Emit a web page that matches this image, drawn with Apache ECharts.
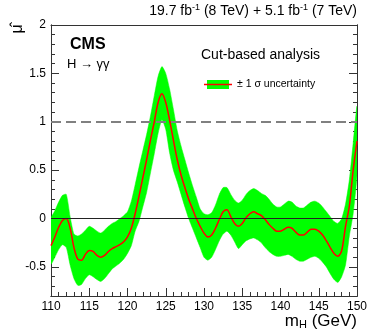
<!DOCTYPE html>
<html>
    <head>
        <meta charset="utf-8" />
        <script src="https://cdn.jsdelivr.net/npm/echarts@6/dist/echarts.min.js"></script>
    </head>
    <body style="margin: 0">
        <style>
            html,
            body,
            #main {
                width: 374px;
                height: 334px;
                background: #fff;
            }
        </style>
        <div id="main"></div>
        <script>
            // m_H scan points (GeV) and the best fit signal strength with its +/- 1 sigma band
            var massGeV = [
                110, 110.5, 111, 111.5, 112, 112.5, 113, 113.5, 114, 114.5,
                115, 115.5, 116, 116.5, 117, 117.5, 118, 118.5, 119, 119.5,
                120, 120.5, 121, 121.5, 122, 122.5, 123, 123.5, 124, 124.5,
                125, 125.5, 126, 126.5, 127, 127.5, 128, 128.5, 129, 129.5,
                130, 130.5, 131, 131.5, 132, 132.5, 133, 133.5, 134, 134.5,
                135, 135.5, 136, 136.5, 137, 137.5, 138, 138.5, 139, 139.5,
                140, 140.5, 141, 141.5, 142, 142.5, 143, 143.5, 144, 144.5,
                145, 145.5, 146, 146.5, 147, 147.5, 148, 148.5, 149, 149.5,
                150
            ];
            var muBest = [
                -0.28, -0.19, -0.09, -0.02, 0.0, -0.1, -0.3, -0.42, -0.43, -0.37,
                -0.33, -0.34, -0.38, -0.4, -0.38, -0.34, -0.31, -0.29, -0.27, -0.24,
                -0.19, -0.1, 0.05, 0.23, 0.42, 0.61, 0.81, 1.0, 1.2, 1.29,
                1.2, 1.02, 0.81, 0.61, 0.45, 0.32, 0.2, 0.1, 0.0, -0.08,
                -0.15, -0.19, -0.17, -0.1, -0.01, 0.07, 0.09, 0.02, -0.05, -0.08,
                -0.05, 0.01, 0.05, 0.07, 0.05, 0.03, -0.01, -0.06, -0.1, -0.13,
                -0.13, -0.11, -0.09, -0.1, -0.14, -0.17, -0.17, -0.14, -0.11, -0.11,
                -0.13, -0.17, -0.23, -0.3, -0.36, -0.39, -0.33, -0.08, 0.13, 0.5,
                0.8
            ];
            var muUp = [
                0.0, 0.08, 0.17, 0.24, 0.25, 0.02, -0.16, -0.18, -0.16, -0.12,
                -0.08, -0.1, -0.13, -0.15, -0.12, -0.08, -0.05, -0.03, 0.0, 0.03,
                0.07, 0.18, 0.35, 0.53, 0.7, 0.87, 1.06, 1.27, 1.47, 1.57,
                1.5, 1.34, 1.13, 0.91, 0.75, 0.61, 0.47, 0.34, 0.22, 0.1,
                0.05, 0.04, 0.06, 0.14, 0.25, 0.32, 0.32, 0.25, 0.19, 0.16,
                0.19, 0.25, 0.29, 0.31, 0.29, 0.26, 0.24, 0.2, 0.15, 0.12,
                0.12, 0.15, 0.18, 0.17, 0.13, 0.11, 0.11, 0.14, 0.17, 0.18,
                0.16, 0.12, 0.07, 0.02, -0.03, -0.05, 0.0, 0.15, 0.4, 0.78,
                1.16
            ];
            var muDown = [
                -0.47, -0.4, -0.32, -0.27, -0.3, -0.48, -0.62, -0.69, -0.68, -0.62,
                -0.58, -0.6, -0.63, -0.65, -0.62, -0.57, -0.52, -0.49, -0.46, -0.42,
                -0.36, -0.28, -0.13, -0.03, 0.12, 0.27, 0.47, 0.67, 0.88, 1.02,
                0.92, 0.68, 0.5, 0.38, 0.25, 0.12, 0.0, -0.1, -0.2, -0.3,
                -0.4, -0.43, -0.4, -0.32, -0.23, -0.16, -0.13, -0.17, -0.24, -0.31,
                -0.27, -0.23, -0.21, -0.2, -0.22, -0.25, -0.3, -0.34, -0.37, -0.39,
                -0.39, -0.38, -0.37, -0.39, -0.42, -0.44, -0.44, -0.42, -0.4, -0.39,
                -0.41, -0.45, -0.5, -0.57, -0.63, -0.66, -0.6, -0.48, -0.18, 0.05,
                0.45
            ];
            var xTickLabels = [110, 115, 120, 125, 130, 135, 140, 145, 150];
            var yTickLabels = [-0.5, 0, 0.5, 1, 1.5, 2];

            var font = "Liberation Sans";
            var chart = echarts.init(document.getElementById("main"), null, {
                renderer: "canvas",
            });

            function pairs(ys) {
                var out = [];
                for (var i = 0; i < massGeV.length; i++) {
                    out.push([massGeV[i], ys[i]]);
                }
                return out;
            }

            // whole band as one polygon: upper edge left to right, lower edge back
            function renderBand(params, api) {
                if (params.dataIndex !== 0) return;
                var upper = [];
                var lower = [];
                for (var i = 0; i < massGeV.length; i++) {
                    upper.push(api.coord([massGeV[i], muUp[i]]));
                    lower.push(api.coord([massGeV[i], muDown[i]]));
                }
                return {
                    type: "group",
                    children: [
                        {
                            type: "polygon",
                            shape: { points: upper.concat(lower.reverse()), smooth: 0.2 },
                            style: { fill: "#00ff00", stroke: "#00ff00", lineWidth: 0.5 },
                        },
                    ],
                };
            }

            var frame = { onZero: false, lineStyle: { color: "#333", width: 1 } };
            var noLabel = { show: false };

            chart.setOption({
                animation: false,
                grid: { left: 51, right: 17, top: 25, bottom: 38 },
                xAxis: [
                    {
                        type: "value", min: 110, max: 150, interval: 1, position: "bottom",
                        axisLine: frame,
                        axisTick: { inside: true, length: 4, lineStyle: { color: "#333" } },
                        axisLabel: noLabel, splitLine: { show: false },
                    },
                    {
                        type: "value", min: 110, max: 150, position: "bottom",
                        axisLine: frame,
                        axisTick: {
                            inside: true, length: 8, customValues: xTickLabels,
                            lineStyle: { color: "#333" },
                        },
                        axisLabel: {
                            customValues: xTickLabels, margin: 5,
                            color: "#000", fontSize: 12, fontFamily: font,
                        },
                        splitLine: { show: false },
                    },
                    {
                        type: "value", min: 110, max: 150, position: "top",
                        axisLine: frame, axisTick: { show: false },
                        axisLabel: noLabel, splitLine: { show: false },
                    },
                ],
                yAxis: [
                    {
                        type: "value", min: -0.8, max: 2, interval: 0.1, position: "left",
                        axisLine: frame,
                        axisTick: { inside: true, length: 4, lineStyle: { color: "#333" } },
                        axisLabel: noLabel, splitLine: { show: false },
                    },
                    {
                        type: "value", min: -0.8, max: 2, position: "left",
                        axisLine: frame,
                        axisTick: {
                            inside: true, length: 8, customValues: yTickLabels,
                            lineStyle: { color: "#333" },
                        },
                        axisLabel: {
                            customValues: yTickLabels, margin: 5,
                            color: "#000", fontSize: 12, fontFamily: font,
                        },
                        splitLine: { show: false },
                    },
                    {
                        type: "value", min: -0.8, max: 2, interval: 0.1, position: "right",
                        axisLine: frame,
                        axisTick: { inside: true, length: 4, lineStyle: { color: "#333" } },
                        axisLabel: noLabel, splitLine: { show: false },
                    },
                    {
                        type: "value", min: -0.8, max: 2, position: "right",
                        axisLine: frame,
                        axisTick: {
                            inside: true, length: 8, customValues: yTickLabels,
                            lineStyle: { color: "#333" },
                        },
                        axisLabel: noLabel, splitLine: { show: false },
                    },
                ],
                series: [
                    {
                        // carries the mu = 0 reference line, under the band
                        name: "zero",
                        type: "line",
                        z: 1,
                        data: pairs(muBest),
                        symbol: "none",
                        lineStyle: { opacity: 0 },
                        markLine: {
                            silent: true, symbol: "none", label: { show: false },
                            lineStyle: { color: "#222", width: 1, type: "solid" },
                            data: [{ yAxis: 0 }],
                        },
                    },
                    {
                        name: "± 1 σ uncertainty",
                        type: "custom",
                        z: 2,
                        clip: true,
                        renderItem: renderBand,
                        data: pairs(muUp),
                    },
                    {
                        name: "best fit",
                        type: "line",
                        z: 3,
                        data: pairs(muBest),
                        symbol: "none",
                        smooth: 0.3,
                        lineStyle: { color: "#ff0000", width: 1.5 },
                        markLine: {
                            silent: true, symbol: "none", label: { show: false },
                            lineStyle: { color: "#808080", width: 2, type: [10, 5] },
                            data: [{ yAxis: 1 }],
                        },
                    },
                ],
                graphic: [
                    {
                        type: "text", right: 17, top: 3,
                        style: {
                            text: "19.7 fb{sup|-1} (8 TeV) + 5.1 fb{sup|-1} (7 TeV)",
                            font: "14px " + font, fill: "#000",
                            rich: { sup: { fontSize: 9, fontFamily: font, padding: [0, 0, 7, 0] } },
                        },
                    },
                    {
                        type: "group", x: 18, y: 29, rotation: Math.PI / 2,
                        children: [
                            {
                                type: "text", x: 0, y: 0,
                                style: {
                                    text: "μ̂", font: "16px " + font, fill: "#000",
                                    align: "center", verticalAlign: "middle",
                                },
                            },
                        ],
                    },
                    {
                        type: "text", left: 70, top: 37,
                        style: { text: "CMS", font: "bold 16px " + font, fill: "#000" },
                    },
                    {
                        type: "text", left: 67, top: 58,
                        style: { text: "H → γγ", font: "13px " + font, fill: "#000" },
                    },
                    {
                        type: "text", left: 201, top: 48,
                        style: { text: "Cut-based analysis", font: "14px " + font, fill: "#000" },
                    },
                    {
                        type: "rect", shape: { x: 207, y: 80, width: 22, height: 9 },
                        style: { fill: "#00ff00" },
                    },
                    {
                        type: "line", shape: { x1: 204, y1: 84.5, x2: 232, y2: 84.5 },
                        style: { stroke: "#ff0000", lineWidth: 1.5 },
                    },
                    {
                        type: "text", left: 237, top: 79,
                        style: { text: "± 1 σ uncertainty", font: "10.5px " + font, fill: "#000" },
                    },
                    {
                        type: "text", right: 17, top: 313,
                        style: {
                            text: "m{sub|H} (GeV)",
                            font: "17px " + font, fill: "#000",
                            rich: { sub: { fontSize: 11, fontFamily: font, padding: [6, 0, 0, 0] } },
                        },
                    },
                ],
            });
        </script>
    </body>
</html>
